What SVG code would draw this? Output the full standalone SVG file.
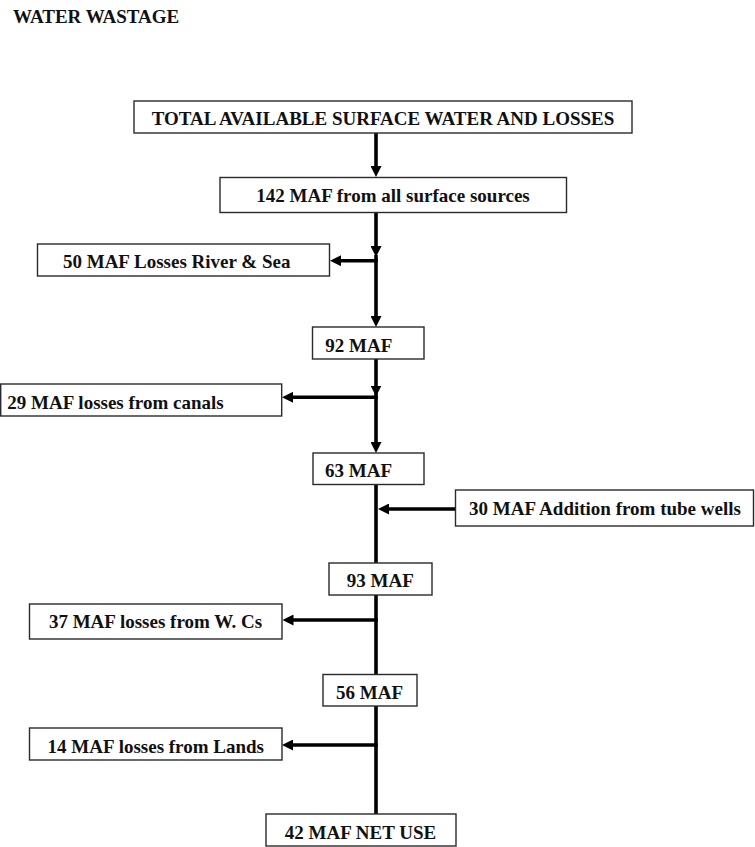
<svg xmlns="http://www.w3.org/2000/svg" width="755" height="847" viewBox="0 0 755 847">
<style>
  .box { fill: #ffffff; stroke: #2a2a2a; stroke-width: 1.4; }
  .lbl { font-family: "Liberation Serif", "Times New Roman", serif; font-weight: bold; font-size: 19px; fill: #111; text-anchor: middle; }
  .title { font-family: "Liberation Serif", "Times New Roman", serif; font-weight: bold; font-size: 19px; fill: #111; }
  .wire { stroke: #000; stroke-width: 3.6; fill: none; }
  .arr { marker-end: url(#head); }
</style>
<defs>
  <marker id="head" markerUnits="userSpaceOnUse" markerWidth="11" markerHeight="11" viewBox="0 0 11 11" refX="5" refY="5.5" orient="auto">
    <path d="M0,0 L11,5.5 L0,11 Z" fill="#000"/>
  </marker>
</defs>
<rect width="755" height="847" fill="#ffffff"/>
<text class="title" x="13" y="23">WATER WASTAGE</text>

<g id="connectors">
  <line class="wire arr" x1="376" y1="133" x2="376" y2="171"/>
  <line class="wire arr" x1="376" y1="212.5" x2="376" y2="251"/>
  <line class="wire arr" x1="376" y1="255" x2="376" y2="321"/>
  <line class="wire arr" x1="377.8" y1="260.7" x2="336" y2="260.7"/>
  <line class="wire arr" x1="376" y1="359" x2="376" y2="390.5"/>
  <line class="wire arr" x1="376" y1="393" x2="376" y2="447"/>
  <line class="wire arr" x1="377.8" y1="397.3" x2="288" y2="397.3"/>
  <line class="wire" x1="376" y1="484.5" x2="376" y2="563"/>
  <line class="wire arr" x1="455.5" y1="509" x2="384" y2="509"/>
  <line class="wire" x1="376" y1="595" x2="376" y2="674.5"/>
  <line class="wire arr" x1="377.8" y1="620" x2="288.5" y2="620"/>
  <line class="wire" x1="376" y1="706" x2="376" y2="814"/>
  <line class="wire arr" x1="377.8" y1="745" x2="288" y2="745"/>
</g>

<g id="n-total">
  <rect class="box" x="134" y="101" width="498" height="32"/>
  <text class="lbl" x="383" y="125">TOTAL AVAILABLE SURFACE WATER AND LOSSES</text>
</g>
<g id="n-142">
  <rect class="box" x="220" y="177.5" width="346.5" height="35"/>
  <text class="lbl" x="393" y="201.7">142 MAF from all surface sources</text>
</g>
<g id="n-50">
  <rect class="box" x="37.5" y="244" width="292" height="32"/>
  <text class="lbl" x="176.7" y="268.3">50 MAF Losses River &amp; Sea</text>
</g>
<g id="n-92">
  <rect class="box" x="312.5" y="327" width="111.5" height="32"/>
  <text class="lbl" x="358.8" y="351.7">92 MAF</text>
</g>
<g id="n-29">
  <rect class="box" x="0.7" y="384" width="281" height="32"/>
  <text class="lbl" x="115.5" y="408.5">29 MAF losses from canals</text>
</g>
<g id="n-63">
  <rect class="box" x="313" y="453" width="111" height="31.5"/>
  <text class="lbl" x="358.5" y="477">63 MAF</text>
</g>
<g id="n-30">
  <rect class="box" x="455.5" y="490" width="298" height="36"/>
  <text class="lbl" x="605" y="515">30 MAF Addition from tube wells</text>
</g>
<g id="n-93">
  <rect class="box" x="329" y="563" width="103" height="32"/>
  <text class="lbl" x="380.3" y="586.7">93 MAF</text>
</g>
<g id="n-37">
  <rect class="box" x="29.5" y="604" width="252.5" height="35"/>
  <text class="lbl" x="155.5" y="628.3">37 MAF losses from W. Cs</text>
</g>
<g id="n-56">
  <rect class="box" x="323" y="674.5" width="94" height="31.5"/>
  <text class="lbl" x="369.5" y="699.3">56 MAF</text>
</g>
<g id="n-14">
  <rect class="box" x="29.5" y="728" width="252.5" height="32"/>
  <text class="lbl" x="155.8" y="753.3">14 MAF losses from Lands</text>
</g>
<g id="n-42">
  <rect class="box" x="266" y="814" width="190" height="32"/>
  <text class="lbl" x="360.5" y="839.3">42 MAF NET USE</text>
</g>
</svg>
